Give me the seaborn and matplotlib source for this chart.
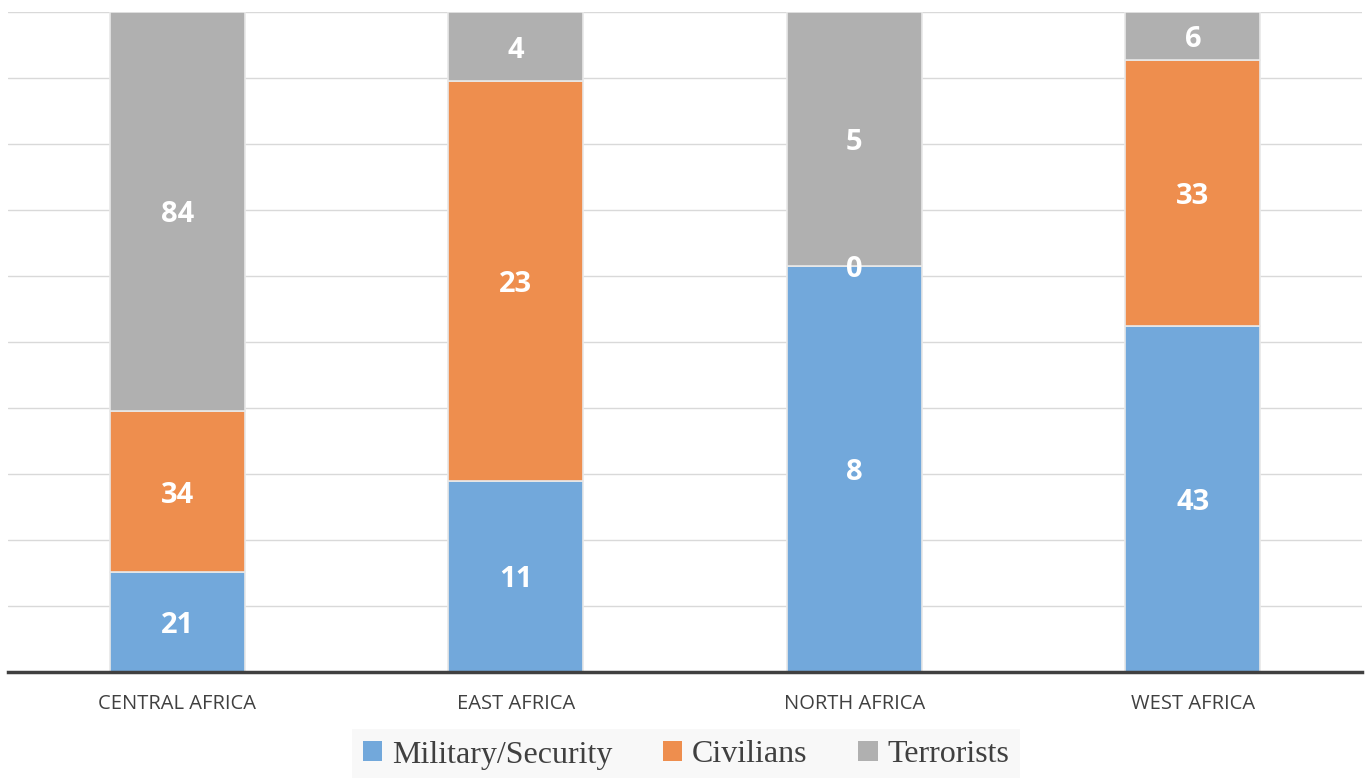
import matplotlib
matplotlib.use("Agg")
import matplotlib.pyplot as plt
import seaborn as sns
import pandas as pd
import numpy as np
from matplotlib.patches import Patch

regions = ["CENTRAL AFRICA", "EAST AFRICA", "NORTH AFRICA", "WEST AFRICA"]
military = [21, 11, 8, 43]
civilians = [34, 23, 0, 33]
terrorists = [84, 4, 5, 6]
series_names = ["Military/Security", "Civilians", "Terrorists"]
colors = ["#72A8DB", "#EE8E4E", "#B0B0B0"]

sns.set_theme(style="white")
plt.rcParams['font.family'] = ['Open Sans', 'DejaVu Sans']

df = pd.DataFrame({"region": regions, "Military/Security": military,
                   "Civilians": civilians, "Terrorists": terrorists})
tot = df[series_names].sum(axis=1)
pct = df[series_names].div(tot, axis=0) * 100

fig = plt.figure(figsize=(13.69, 7.78), dpi=100)
ax = fig.add_axes([8/1369, 106/778, 1354/1369, 660/778])

bottom = np.zeros(len(regions))
for name, col in zip(series_names, colors):
    vals = pct[name].values
    sns.barplot(x=df["region"], y=vals, bottom=bottom, color=col, width=0.4,
                ax=ax, edgecolor="#e8e8e8", linewidth=1.2, saturation=1)
    for i, (v, c) in enumerate(zip(vals, df[name].values)):
        ax.text(i, bottom[i] + v / 2, str(c), ha="center", va="center_baseline",
                color="white", fontsize=21, fontweight="bold", zorder=5)
    bottom = bottom + vals

ax.set_xlim(-0.5, 3.5)
ax.set_ylim(0, 100)
ax.set_yticks(np.arange(0, 101, 10))
ax.set_yticklabels([])
ax.tick_params(axis="y", length=0)
ax.yaxis.grid(True, color="#d9d9d9", linewidth=1)
ax.set_axisbelow(True)
ax.set_xlabel("")
ax.set_ylabel("")
ax.tick_params(axis="x", length=0, pad=16, labelsize=14.5, labelcolor="#404040")
for s in ["top", "right", "left"]:
    ax.spines[s].set_visible(False)
ax.spines["bottom"].set_color("#404040")
ax.spines["bottom"].set_linewidth(2.5)
ax.spines["bottom"].set_zorder(6)

handles = [Patch(facecolor=c, edgecolor="none") for c in colors]
leg = fig.legend(handles, series_names, loc="center", bbox_to_anchor=(686/1369, 23/778),
                 ncol=3, frameon=True, fancybox=False, handlelength=0.6, handleheight=0.6,
                 handletextpad=0.3, columnspacing=1.6, borderpad=0.35,
                 prop={"family": "Liberation Serif", "size": 23})
leg.get_frame().set_facecolor("#f7f7f7")
leg.get_frame().set_edgecolor("none")
for t in leg.get_texts():
    t.set_color("#404040")

fig.savefig("out.png", dpi=100)
